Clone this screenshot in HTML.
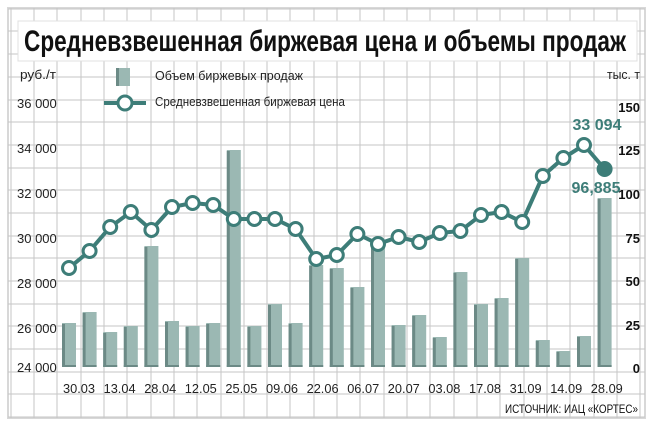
<!DOCTYPE html>
<html><head><meta charset="utf-8"><style>
body{margin:0;background:#fff}
svg{display:block;font-family:"Liberation Sans Narrow","Liberation Sans",sans-serif}
</style></head><body>
<svg width="652" height="430" viewBox="0 0 652 430" xmlns="http://www.w3.org/2000/svg">
<rect x="0" y="0" width="652" height="430" fill="#fff"/>
<rect x="8" y="8" width="637" height="410" fill="#fff" stroke="#d8d8d8" stroke-width="2"/>
<g stroke="#c6c6c6" stroke-width="1">
<line x1="11" y1="8" x2="11" y2="418"/><line x1="34" y1="8" x2="34" y2="418"/><line x1="57" y1="8" x2="57" y2="418"/><line x1="81" y1="8" x2="81" y2="418"/><line x1="104" y1="8" x2="104" y2="418"/><line x1="127" y1="8" x2="127" y2="418"/><line x1="151" y1="8" x2="151" y2="418"/><line x1="174" y1="8" x2="174" y2="418"/><line x1="197" y1="8" x2="197" y2="418"/><line x1="221" y1="8" x2="221" y2="418"/><line x1="244" y1="8" x2="244" y2="418"/><line x1="267" y1="8" x2="267" y2="418"/><line x1="290" y1="8" x2="290" y2="418"/><line x1="314" y1="8" x2="314" y2="418"/><line x1="337" y1="8" x2="337" y2="418"/><line x1="360" y1="8" x2="360" y2="418"/><line x1="384" y1="8" x2="384" y2="418"/><line x1="407" y1="8" x2="407" y2="418"/><line x1="430" y1="8" x2="430" y2="418"/><line x1="454" y1="8" x2="454" y2="418"/><line x1="477" y1="8" x2="477" y2="418"/><line x1="500" y1="8" x2="500" y2="418"/><line x1="524" y1="8" x2="524" y2="418"/><line x1="547" y1="8" x2="547" y2="418"/><line x1="570" y1="8" x2="570" y2="418"/><line x1="594" y1="8" x2="594" y2="418"/><line x1="617" y1="8" x2="617" y2="418"/><line x1="640" y1="8" x2="640" y2="418"/>
<line x1="8" y1="9" x2="645" y2="9"/><line x1="8" y1="31" x2="645" y2="31"/><line x1="8" y1="54" x2="645" y2="54"/><line x1="8" y1="77" x2="645" y2="77"/><line x1="8" y1="100" x2="645" y2="100"/><line x1="8" y1="122" x2="645" y2="122"/><line x1="8" y1="145" x2="645" y2="145"/><line x1="8" y1="168" x2="645" y2="168"/><line x1="8" y1="190" x2="645" y2="190"/><line x1="8" y1="213" x2="645" y2="213"/><line x1="8" y1="236" x2="645" y2="236"/><line x1="8" y1="258" x2="645" y2="258"/><line x1="8" y1="281" x2="645" y2="281"/><line x1="8" y1="304" x2="645" y2="304"/><line x1="8" y1="326" x2="645" y2="326"/><line x1="8" y1="349" x2="645" y2="349"/><line x1="8" y1="372" x2="645" y2="372"/><line x1="8" y1="394" x2="645" y2="394"/><line x1="8" y1="417" x2="645" y2="417"/>
</g>
<rect x="18" y="21" width="619" height="40" fill="#fff" stroke="#e0e0e0"/>
<text x="24" y="51" font-weight="bold" font-size="30" fill="#111" textLength="602" lengthAdjust="spacingAndGlyphs">Средневзвешенная биржевая цена и объемы продаж</text>
<g font-size="13" fill="#222">
<text x="20" y="79" textLength="36" lengthAdjust="spacingAndGlyphs">руб./т</text>
<text x="607" y="79" textLength="33" lengthAdjust="spacingAndGlyphs">тыс. т</text>
<text x="155" y="80" textLength="148" lengthAdjust="spacingAndGlyphs">Объем биржевых продаж</text>
<text x="155" y="106" textLength="190" lengthAdjust="spacingAndGlyphs">Средневзвешенная биржевая цена</text>
<text x="17" y="108">36 000</text><text x="17" y="153">34 000</text><text x="17" y="198">32 000</text><text x="17" y="243">30 000</text><text x="17" y="288">28 000</text><text x="17" y="333">26 000</text><text x="17" y="372">24 000</text>
</g>
<g font-size="13" fill="#111" font-weight="bold" text-anchor="end">
<text x="640" y="112">150</text><text x="640" y="155">125</text><text x="640" y="199">100</text><text x="640" y="243">75</text><text x="640" y="286">50</text><text x="640" y="330">25</text><text x="640" y="373">0</text>
</g>
<rect x="116" y="68" width="14" height="18" fill="#9bb8b3"/><rect x="116" y="68" width="3" height="18" fill="#6c8a86"/>
<line x1="104" y1="103" x2="146" y2="103" stroke="#3d7d78" stroke-width="4"/>
<circle cx="125" cy="103" r="7" fill="#fff" stroke="#3d7d78" stroke-width="3"/>
<script>
var tops=[323,312,332,326,246,321,326,323,150,326,304,323,265,268,287,245,325,315,337,272,304,298,258,340,351,336,198];
var pts=[268,251,227,212,230,207,203,205,219,219,219,229,259,255,234,244,237,242,233,231,215,212,222,176,158,145,169];
var ns="http://www.w3.org/2000/svg",svg=document.querySelector('svg');
function el(t,a){var e=document.createElementNS(ns,t);for(var k in a)e.setAttribute(k,a[k]);svg.appendChild(e);return e;}
for(var i=0;i<27;i++){var cx=69+i*20.6;
el('rect',{x:cx-7,y:tops[i],width:14,height:367-tops[i],fill:'#9bb8b3'});
el('rect',{x:cx-7,y:tops[i]+1,width:3,height:367-tops[i]-1,fill:'#6c8a86'});
el('rect',{x:cx-7,y:365,width:14,height:2,fill:'#6c8a86'});}
var d='';for(var i=0;i<27;i++){d+=(i?'L':'M')+(69+i*20.6)+' '+pts[i];}
el('path',{d:d,fill:'none',stroke:'#3d7d78','stroke-width':4});
for(var i=0;i<26;i++){el('circle',{cx:69+i*20.6,cy:pts[i],r:6.5,fill:'#fff',stroke:'#3d7d78','stroke-width':3});}
el('circle',{cx:69+26*20.6,cy:pts[26],r:8,fill:'#3d7d78'});
var lab=['30.03','13.04','28.04','12.05','25.05','09.06','22.06','06.07','20.07','03.08','17.08','31.09','14.09','28.09'];
for(var i=0;i<14;i++){var t=el('text',{x:79+i*40.6,y:393,'text-anchor':'middle','font-size':13,fill:'#222',textLength:32,lengthAdjust:'spacingAndGlyphs'});t.textContent=lab[i];}
var t=el('text',{x:597,y:130,'text-anchor':'middle','font-size':16,'font-weight':'bold',fill:'#3d7d78'});t.textContent='33 094';
t=el('text',{x:596,y:193,'text-anchor':'middle','font-size':16,'font-weight':'bold',fill:'#3d7d78'});t.textContent='96,885';
</script>
<text x="505" y="413" font-size="12" fill="#111" textLength="133" lengthAdjust="spacingAndGlyphs">ИСТОЧНИК: ИАЦ «КОРТЕС»</text>
</svg>
</body></html>
